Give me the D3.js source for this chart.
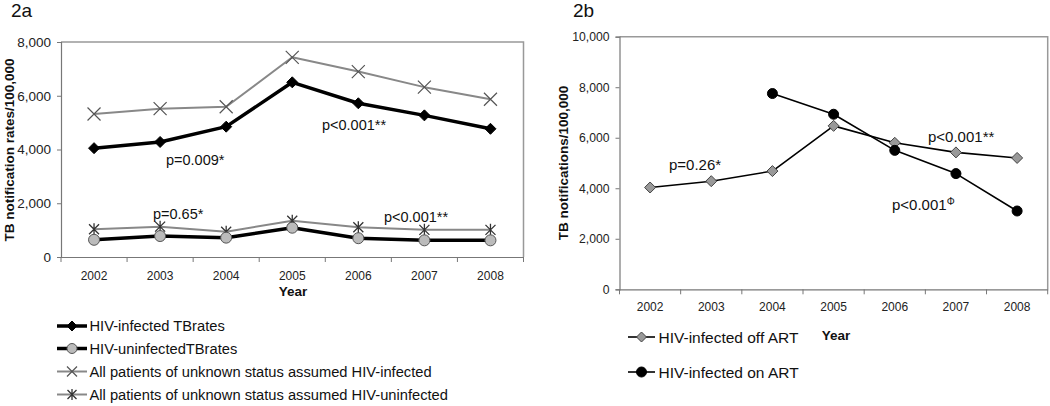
<!DOCTYPE html>
<html>
<head>
<meta charset="utf-8">
<script src="https://cdn.jsdelivr.net/npm/d3@7"></script>
<style>
  html, body { margin: 0; padding: 0; background: #fff; }
  svg text { font-family: "Liberation Sans", Arial, sans-serif; }
</style>
</head>
<body>
<svg id="chart" width="1050" height="406"></svg>
<script>
// ---- Data ----
const years = ["2002", "2003", "2004", "2005", "2006", "2007", "2008"];

// Panel 2a
const hivInfected = [4050, 4280, 4850, 6500, 5720, 5270, 4770];
const hivUninfected = [640, 780, 720, 1090, 700, 620, 620];
const unknownAssumedInfected = [5320, 5520, 5590, 7430, 6900, 6320, 5870];
const unknownAssumedUninfected = [1030, 1130, 940, 1350, 1110, 1010, 1010];
const leftTicks = [0, 2000, 4000, 6000, 8000];

// Panel 2b
const offART = [4030, 4280, 4680, 6470, 5800, 5420, 5200];
const onART = [null, null, 7750, 6930, 5500, 4580, 3100];
const rightTicks = [0, 2000, 4000, 6000, 8000, 10000];

const svg = d3.select("#chart");
const fmt = d3.format(",");

function diamond(g, x, y, s, fill, stroke) {
  g.append("path")
    .attr("d", `M${x},${y - s}L${x + s},${y}L${x},${y + s}L${x - s},${y}Z`)
    .attr("fill", fill).attr("stroke", stroke).attr("stroke-width", 1);
}
function circle(g, x, y, r, fill, stroke) {
  g.append("circle").attr("cx", x).attr("cy", y).attr("r", r)
    .attr("fill", fill).attr("stroke", stroke).attr("stroke-width", 1);
}
function xMark(g, x, y, s, color) {
  g.append("path")
    .attr("d", `M${x - s},${y - s}L${x + s},${y + s}M${x - s},${y + s}L${x + s},${y - s}`)
    .attr("stroke", color).attr("stroke-width", 1.2).attr("fill", "none");
}
function starMark(g, x, y, s, color) {
  g.append("path")
    .attr("d", `M${x - s},${y - s}L${x + s},${y + s}M${x - s},${y + s}L${x + s},${y - s}M${x},${y - s - 1}L${x},${y + s + 1}`)
    .attr("stroke", color).attr("stroke-width", 1.3).attr("fill", "none");
}

function panel(opts) {
  const g = svg.append("g");
  const x = d3.scaleBand().domain(years).range([opts.x0, opts.x1]);
  const y = d3.scaleLinear().domain([0, opts.ymax]).range([opts.y0, opts.y1]);

  // frame (top and right, grey)
  g.append("path")
    .attr("d", `M${opts.x0},${opts.y1}H${opts.x1}V${opts.y0}`)
    .attr("fill", "none").attr("stroke", "#999").attr("stroke-width", 1.5);

  // y axis
  const ya = g.append("g").attr("transform", `translate(${opts.x0},0)`)
    .call(d3.axisLeft(y).tickValues(opts.ticks).tickFormat(fmt).tickSize(4).tickPadding(opts.ytickPad));
  ya.select(".domain").attr("stroke", "#777").attr("stroke-width", 1.2);
  ya.selectAll(".tick line").attr("stroke", "#777");
  ya.selectAll(".tick text").attr("font-size", opts.yFont).attr("fill", "#222")
    .style("font-family", '"Liberation Sans", Arial, sans-serif');

  // x axis: labels at band centers, ticks at band boundaries
  const xa = g.append("g").attr("transform", `translate(0,${opts.y0})`)
    .call(d3.axisBottom(x).tickSize(0).tickPadding(opts.xtickPad));
  xa.select(".domain").attr("stroke", "#777").attr("stroke-width", 1.2);
  xa.selectAll(".tick text").attr("font-size", opts.xFont).attr("fill", "#222")
    .style("font-family", '"Liberation Sans", Arial, sans-serif');
  const bounds = years.map(d => x(d)).concat([x(years[years.length - 1]) + x.bandwidth()]);
  g.selectAll(".xb").data(bounds).enter().append("line")
    .attr("x1", d => d).attr("x2", d => d)
    .attr("y1", opts.y0).attr("y2", opts.y0 + 5)
    .attr("stroke", "#777").attr("stroke-width", 1);

  // titles
  g.append("text")
    .attr("transform", `translate(${opts.ytitleX},${opts.ytitleY}) rotate(-90)`)
    .attr("text-anchor", "middle").attr("dominant-baseline", "central")
    .attr("font-size", 13.5).attr("font-weight", "bold").attr("fill", "#111")
    .text(opts.ytitle);
  g.append("text")
    .attr("x", opts.yearX).attr("y", opts.yearY)
    .attr("text-anchor", "middle").attr("font-size", 13.5).attr("font-weight", "bold").attr("fill", "#111")
    .text("Year");
  g.append("text").attr("x", opts.labX).attr("y", 17).attr("font-size", 19).attr("fill", "#111")
    .text(opts.label);

  return { g, x, y, cx: d => x(d) + x.bandwidth() / 2 };
}

// ---------- Panel 2a ----------
const A = panel({
  x0: 61, x1: 523.5, y0: 257, y1: 42, ymax: 8000, ticks: leftTicks,
  ytickPad: 6, xtickPad: 14, yFont: 13.5, xFont: 12,
  ytitle: "TB notification rates/100,000", ytitleX: 9, ytitleY: 150,
  yearX: 293, yearY: 296, label: "2a", labX: 11
});

function drawSeries(P, vals, color, width, markerFn) {
  const pts = years.map((yr, i) => [yr, vals[i]]).filter(d => d[1] != null);
  const line = d3.line().x(d => P.cx(d[0])).y(d => P.y(d[1]));
  P.g.append("path").datum(pts).attr("d", line)
    .attr("fill", "none").attr("stroke", color).attr("stroke-width", width)
    .attr("stroke-linejoin", "round");
  pts.forEach(d => markerFn(P.g, P.cx(d[0]), P.y(d[1])));
}

drawSeries(A, unknownAssumedInfected, "#888", 2, (g, x, y) => xMark(g, x, y, 6.5, "#555"));
drawSeries(A, unknownAssumedUninfected, "#888", 2, (g, x, y) => starMark(g, x, y, 5, "#333"));
drawSeries(A, hivInfected, "#000", 3.5, (g, x, y) => diamond(g, x, y, 5.5, "#000", "#000"));
drawSeries(A, hivUninfected, "#000", 3.5, (g, x, y) => circle(g, x, y, 5.5, "#bbb", "#555"));

const annA = [
  { t: "p=0.009*", x: 166, y: 165 },
  { t: "p=0.65*", x: 153, y: 219 },
  { t: "p<0.001**", x: 322, y: 130 },
  { t: "p<0.001**", x: 384, y: 222 }
];
A.g.selectAll(".annA").data(annA).enter().append("text")
  .attr("x", d => d.x).attr("y", d => d.y).attr("font-size", 14.5).attr("fill", "#111")
  .text(d => d.t);

// Legend 2a
const legA = [
  { t: "HIV-infected TBrates", color: "#000", w: 3.5, m: (g, x, y) => diamond(g, x, y, 5, "#000", "#000") },
  { t: "HIV-uninfectedTBrates", color: "#000", w: 3.5, m: (g, x, y) => circle(g, x, y, 5, "#bbb", "#555") },
  { t: "All patients of unknown status assumed HIV-infected", color: "#888", w: 2, m: (g, x, y) => xMark(g, x, y, 5, "#555") },
  { t: "All patients of unknown status assumed HIV-uninfected", color: "#888", w: 2, m: (g, x, y) => starMark(g, x, y, 4.5, "#333") }
];
const legAY = [326, 348.5, 371.5, 394.5];
legA.forEach((d, i) => {
  const yy = legAY[i];
  svg.append("line").attr("x1", 57).attr("x2", 87).attr("y1", yy).attr("y2", yy)
    .attr("stroke", d.color).attr("stroke-width", d.w);
  d.m(svg, 72, yy);
  svg.append("text").attr("x", 89.5).attr("y", yy).attr("dominant-baseline", "central")
    .attr("font-size", 14.7).attr("fill", "#111").text(d.t);
});

// ---------- Panel 2b ----------
const B = panel({
  x0: 619.5, x1: 1047.7, y0: 289.3, y1: 36.7, ymax: 10000, ticks: rightTicks,
  ytickPad: 6, xtickPad: 13, yFont: 12.2, xFont: 12,
  ytitle: "TB notifications/100,000", ytitleX: 563, ytitleY: 163,
  yearX: 836, yearY: 340, label: "2b", labX: 573
});

drawSeries(B, offART, "#000", 1.6, (g, x, y) => diamond(g, x, y, 5.5, "#999", "#444"));
drawSeries(B, onART, "#000", 1.6, (g, x, y) => circle(g, x, y, 5, "#000", "#000"));

const annB = [
  { t: "p=0.26*", x: 669, y: 170 },
  { t: "p<0.001**", x: 928, y: 142 }
];
B.g.selectAll(".annB").data(annB).enter().append("text")
  .attr("x", d => d.x).attr("y", d => d.y).attr("font-size", 15).attr("fill", "#111")
  .text(d => d.t);
const phi = B.g.append("text").attr("x", 892).attr("y", 210).attr("font-size", 15).attr("fill", "#111");
phi.append("tspan").text("p<0.001");
phi.append("tspan").attr("font-size", 10).attr("dy", -5).text("Φ");

// Legend 2b
const legB = [
  { t: "HIV-infected off ART", m: (g, x, y) => diamond(g, x, y, 5, "#999", "#444") },
  { t: "HIV-infected on ART", m: (g, x, y) => circle(g, x, y, 5, "#000", "#000") }
];
const legBY = [337, 372];
legB.forEach((d, i) => {
  const yy = legBY[i];
  svg.append("line").attr("x1", 628).attr("x2", 655).attr("y1", yy).attr("y2", yy)
    .attr("stroke", "#000").attr("stroke-width", 1.6);
  d.m(svg, 641.5, yy);
  svg.append("text").attr("x", 658.5).attr("y", yy).attr("dominant-baseline", "central")
    .attr("font-size", 15.5).attr("fill", "#111").text(d.t);
});
</script>
</body>
</html>
